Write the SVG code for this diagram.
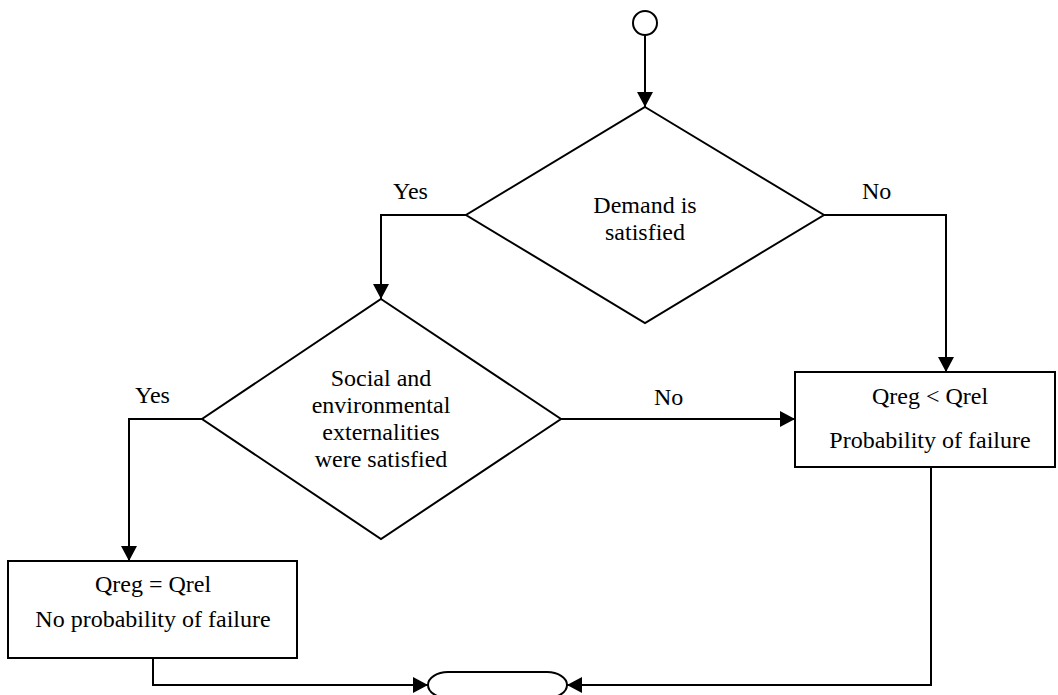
<svg xmlns="http://www.w3.org/2000/svg" width="1058" height="695" viewBox="0 0 1058 695">
<style>
.s{fill:#fff;stroke:#000;stroke-width:2}
.c{fill:none;stroke:#000;stroke-width:2}
text{font-family:"Liberation Serif","Times New Roman",serif;font-size:24px;fill:#000}
.m{text-anchor:middle}
</style>
<defs>
<marker id="a" markerUnits="userSpaceOnUse" markerWidth="16" markerHeight="16" refX="15" refY="8" orient="auto">
<path d="M0,0 L15,8 L0,16 z" fill="#000"/>
</marker>
</defs>
<rect width="1058" height="695" fill="#fff"/>
<g id="start"><circle class="s" cx="645" cy="23" r="12"/></g>
<g id="d1"><polygon class="s" points="645,107 824,215 645,323 466,215"/>
<text class="m" x="645" y="213">Demand is</text><text class="m" x="645" y="240">satisfied</text></g>
<g id="d2"><polygon class="s" points="381,299 561,419 381,539 202,419"/>
<text class="m" x="381" y="386">Social and</text><text class="m" x="381" y="413">environmental</text><text class="m" x="381" y="440">externalities</text><text class="m" x="381" y="467">were satisfied</text></g>
<g id="b1"><rect class="s" x="795" y="372" width="260" height="95"/>
<text class="m" x="930" y="404">Qreg &lt; Qrel</text><text class="m" x="930" y="448">Probability of failure</text></g>
<g id="b2"><rect class="s" x="8" y="561" width="289" height="97"/>
<text class="m" x="153" y="592">Qreg = Qrel</text><text class="m" x="153" y="627">No probability of failure</text></g>
<g id="end"><path class="s" d="M448,672 H547 A20,13 0 0 1 547,698 H448 A20,13 0 0 1 448,672 Z"/></g>
<g id="connectors">
<path class="c" d="M645,35 V107" marker-end="url(#a)"/>
<path class="c" d="M466,215 H381 V299" marker-end="url(#a)"/>
<path class="c" d="M824,215 H946 V372" marker-end="url(#a)"/>
<path class="c" d="M561,419 H795" marker-end="url(#a)"/>
<path class="c" d="M202,419 H129 V561" marker-end="url(#a)"/>
<path class="c" d="M153,658 V685 H428" marker-end="url(#a)"/>
<path class="c" d="M931,467 V685 H567" marker-end="url(#a)"/>
<text x="393" y="199">Yes</text>
<text x="862" y="199">No</text>
<text x="135" y="403">Yes</text>
<text x="654" y="405">No</text>
</g>
</svg>
